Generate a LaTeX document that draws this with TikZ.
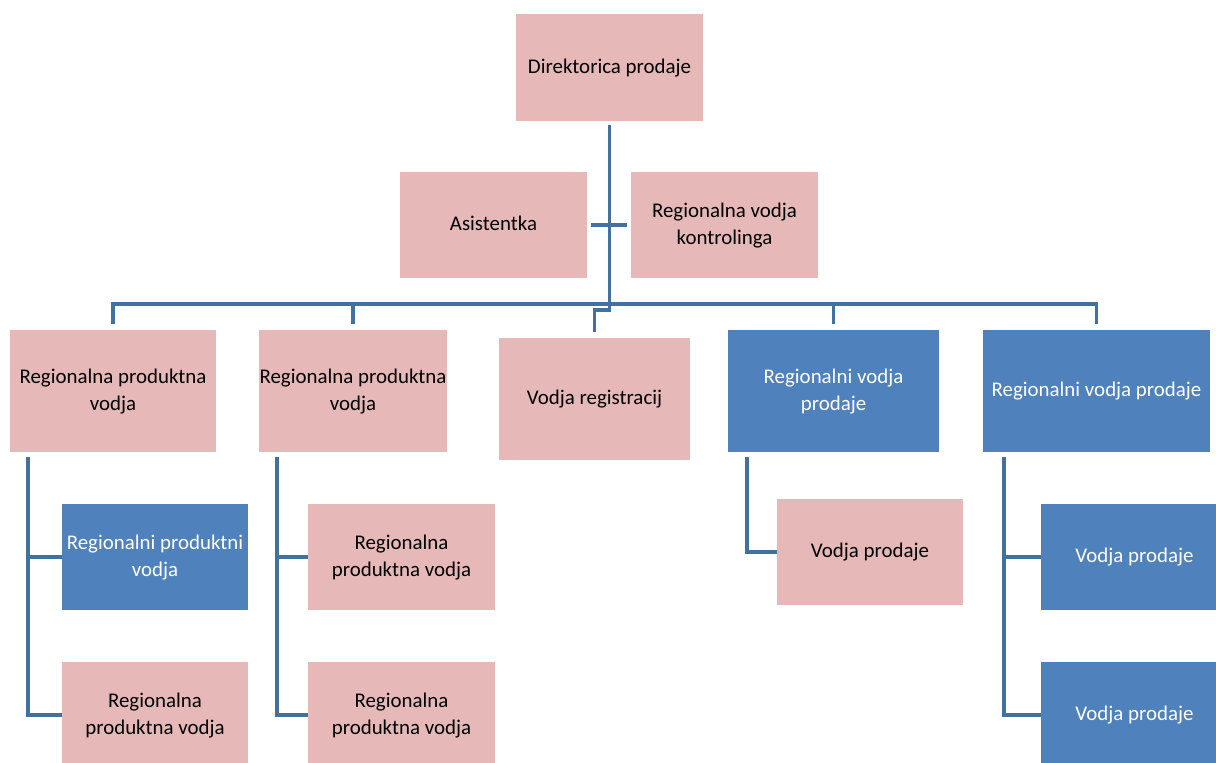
\documentclass[tikz,border=0pt]{standalone}
\usepackage{fontspec}
\setmainfont{Carlito}
\definecolor{pinkfill}{HTML}{E6B9B8}
\definecolor{bluefill}{HTML}{4F81BD}
\definecolor{linkblue}{HTML}{41719C}

\begin{document}
\begin{tikzpicture}[
    x=0.02cm, y=-0.02cm,
    pinkbox/.style={fill=pinkfill,
        minimum width=3.74cm,
        minimum height=2.12cm,
        inner sep=0pt,
        align=center,
        text depth=0.4ex,
        font=\fontsize{11.9}{15.3}\selectfont},
    bluebox/.style={pinkbox, fill=bluefill, text=white},
    link/.style={draw=linkblue, line width=2.1pt}
]
\useasboundingbox (0,0) rectangle (1216,763);

% Top
\node (dir) [pinkbox,
    minimum height=2.14cm
] at (609.5,67.5) {Direktorica prodaje};

\node (asist) [pinkbox
] at (493.5,225) {Asistentka};

\node (kontr) [pinkbox
] at (724.5,225) {Regionalna vodja\\kontrolinga};

% Second row
\node (rpv1) [pinkbox,
    minimum width=4.12cm,
    minimum height=2.44cm
] at (113,391) {Regionalna produktna\\vodja};

\node (rpv2) [pinkbox,
    minimum width=3.76cm,
    minimum height=2.44cm
] at (353,391) {Regionalna produktna\\vodja};

\node (vreg) [pinkbox,
    minimum width=3.82cm,
    minimum height=2.44cm
] at (594.5,399) {Vodja registracij};

\node (rvp1) [bluebox,
    minimum width=4.22cm,
    minimum height=2.44cm
] at (833.5,391) {Regionalni vodja\\prodaje};

\node (rvp2) [bluebox,
    minimum width=4.54cm,
    minimum height=2.44cm
] at (1096.5,391) {Regionalni vodja prodaje};

% Third row
\node (rpv1a) [bluebox,
    minimum width=3.72cm
] at (155,557) {Regionalni produktni\\vodja};
\node (rpv1b) [pinkbox,
    minimum width=3.72cm
] at (155,715) {Regionalna\\produktna vodja};

\node (rpv2a) [pinkbox
] at (401.5,557) {Regionalna\\produktna vodja};
\node (rpv2b) [pinkbox
] at (401.5,715) {Regionalna\\produktna vodja};

\node (vp1) [pinkbox,
    minimum width=3.72cm
] at (870,552) {Vodja prodaje};

\node (vp2) [bluebox
] at (1134.5,557) {Vodja prodaje};
\node (vp3) [bluebox
] at (1134.5,715) {Vodja prodaje};

% lines
\coordinate (bus) at (0,304);
\coordinate (jog) at (0,310);
\coordinate (s1) at (28,457);
\coordinate (s2) at (277,457);
\coordinate (s4) at (747,457);
\coordinate (s5) at (1004,457);

\draw [link, shorten <=2pt, shorten >=3pt](dir.south) -- (dir.south |- jog) -| (vreg.north);
\draw [link, shorten <=2pt, shorten >=2pt](asist.east) -- (kontr.west);

\draw [link, shorten <=3pt, shorten >=3pt](rpv1.north) -- (rpv1.north |- bus) -- (rvp2.north |- bus) -- (rvp2.north);
\draw [link, shorten >=3pt](rpv2.north |- bus) -- (rpv2.north);
\draw [link, shorten >=3pt](rvp1.north |- bus) -- (rvp1.north);

\draw [link](s1) |- (rpv1b.west);
\draw [link](s1 |- rpv1a.west) -- (rpv1a.west);
\draw [link](s2) |- (rpv2b.west);
\draw [link](s2 |- rpv2a.west) -- (rpv2a.west);
\draw [link](s4) |- (vp1.west);
\draw [link](s5) |- (vp3.west);
\draw [link](s5 |- vp2.west) -- (vp2.west);

\end{tikzpicture}
\end{document}
